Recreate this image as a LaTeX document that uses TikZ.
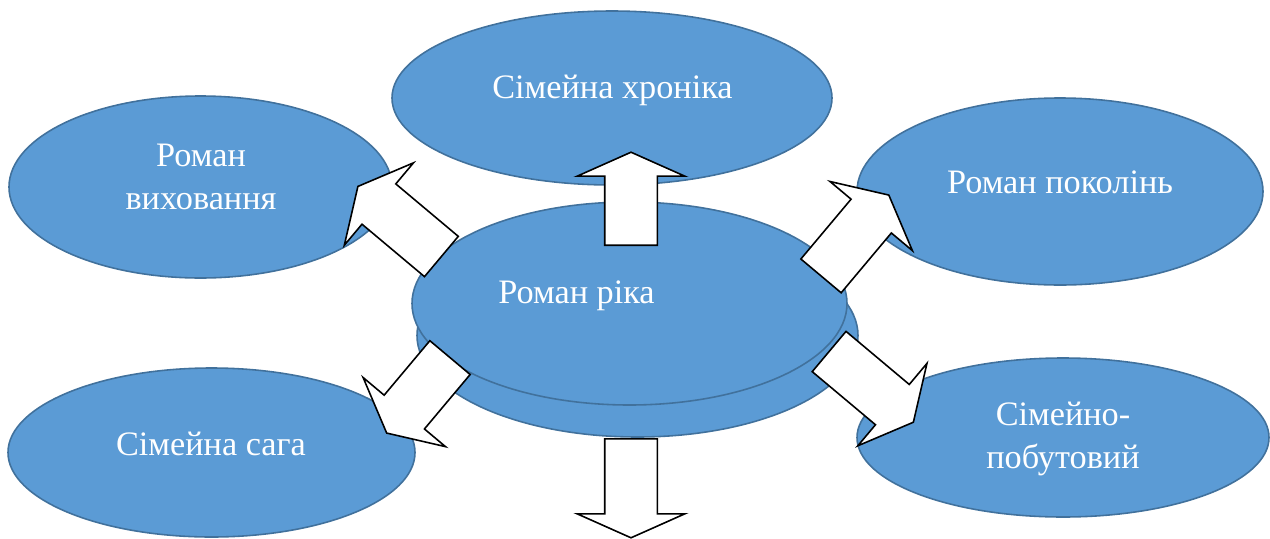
\documentclass[tikz,border=0pt]{standalone}
\usepackage{fontspec}
\setmainfont{Liberation Serif}
\usetikzlibrary{shapes.geometric,shapes.arrows}
\definecolor{blfill}{HTML}{5B9BD5}
\definecolor{blline}{HTML}{41719C}
\tikzset{
  bubble/.style={ellipse,draw=blline,fill=blfill,line width=0.9pt,inner sep=0pt},
  lbl/.style={text=white,font=\fontsize{19.5}{24.3}\selectfont,align=center,anchor=base,inner sep=0pt},
  bigarrow/.style={single arrow,draw=black,fill=white,line width=0.9pt,inner xsep=0pt,inner ysep=0.51cm,
    single arrow head extend=0.55cm,single arrow tip angle=126,anchor=tail}
}
\begin{document}
\begin{tikzpicture}
  \useasboundingbox (0,0) rectangle (25.4,-10.76);
  %ellissi
  \node[bubble,minimum width=8.80cm,minimum height=3.48cm] (cron) at (12.24,-1.96) {};
  \node[bubble,minimum width=7.66cm,minimum height=3.64cm] (vyh) at (4.01,-3.74) {};
  \node[bubble,minimum width=8.12cm,minimum height=3.74cm] (pokol) at (21.20,-3.83) {};
  \node[bubble,minimum width=8.14cm,minimum height=3.38cm] (saga) at (4.23,-9.05) {};
  \node[bubble,minimum width=8.24cm,minimum height=3.18cm] (pobut) at (21.26,-8.75) {};
  %centro
  \node[bubble,minimum width=8.82cm,minimum height=4.06cm] (rikaback) at (12.75,-6.71) {};
  \node[bubble,minimum width=8.70cm,minimum height=4.06cm] (rika) at (12.59,-6.07) {};
  %testi
  \node[lbl] (tcron) at (12.25,-1.96) {Сімейна хроніка};
  \node[lbl] (tvyh) at (4.02,-4.19) {Роман\\виховання};
  \node[lbl] (tpokol) at (21.20,-3.87) {Роман поколінь};
  \node[lbl] (tsaga) at (4.22,-9.10) {Сімейна сага};
  \node[lbl] (tpobut) at (21.26,-9.37) {Сімейно-\\побутовий};
  \node[lbl] (trika) at (11.53,-6.07) {Роман ріка};
  %frecce
  \node[bigarrow,rotate=90,minimum height=1.86cm,single arrow tip angle=132] (aup) at (12.62,-4.92) {};
  \node[bigarrow,rotate=-90,minimum height=1.98cm,single arrow tip angle=132] (adown) at (12.62,-8.76) {};
  \node[bigarrow,rotate=140,minimum height=2.18cm] (aul) at (8.84,-5.14) {};
  \node[bigarrow,rotate=50,minimum height=2.11cm] (aur) at (16.41,-5.53) {};
  \node[bigarrow,rotate=-40,minimum height=2.20cm] (alr) at (16.57,-7.02) {};
  \node[bigarrow,rotate=230,minimum height=1.97cm] (all) at (9.01,-7.14) {};
\end{tikzpicture}
\end{document}
